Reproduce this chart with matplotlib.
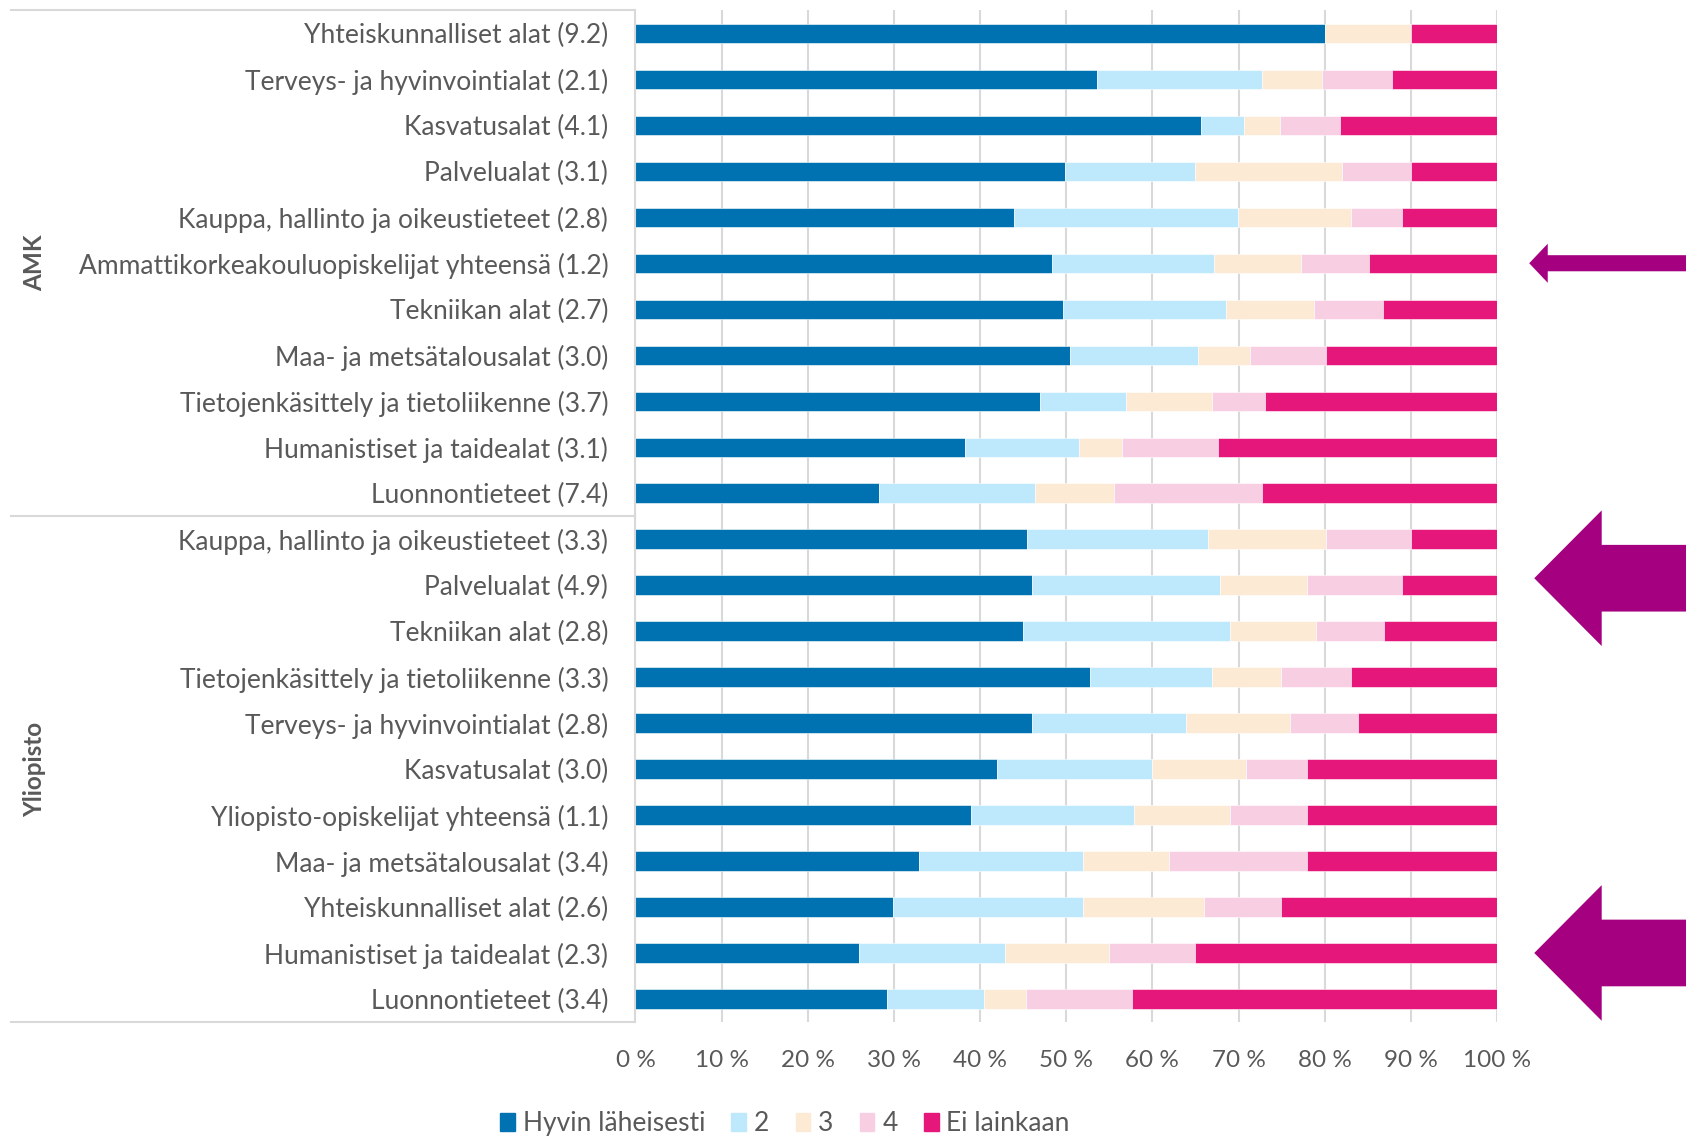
import numpy as np
import matplotlib
matplotlib.use("Agg")
import matplotlib.pyplot as plt
from matplotlib.patches import Polygon, Patch
from matplotlib.lines import Line2D
from matplotlib.transforms import blended_transform_factory

plt.rcParams['font.family'] = ['Lato', 'DejaVu Sans']

categories = [
    "Yhteiskunnalliset alat (9.2)",
    "Terveys- ja hyvinvointialat (2.1)",
    "Kasvatusalat (4.1)",
    "Palvelualat (3.1)",
    "Kauppa, hallinto ja oikeustieteet (2.8)",
    "Ammattikorkeakouluopiskelijat yhteensä (1.2)",
    "Tekniikan alat (2.7)",
    "Maa- ja metsätalousalat (3.0)",
    "Tietojenkäsittely ja tietoliikenne (3.7)",
    "Humanistiset ja taidealat (3.1)",
    "Luonnontieteet (7.4)",
    "Kauppa, hallinto ja oikeustieteet (3.3)",
    "Palvelualat (4.9)",
    "Tekniikan alat (2.8)",
    "Tietojenkäsittely ja tietoliikenne (3.3)",
    "Terveys- ja hyvinvointialat (2.8)",
    "Kasvatusalat (3.0)",
    "Yliopisto-opiskelijat yhteensä (1.1)",
    "Maa- ja metsätalousalat (3.4)",
    "Yhteiskunnalliset alat (2.6)",
    "Humanistiset ja taidealat (2.3)",
    "Luonnontieteet (3.4)",
]
groups = ["AMK", "Yliopisto"]
group_sizes = [11, 11]

series_names = ["Hyvin läheisesti", "2", "3", "4", "Ei lainkaan"]
hyvin = [80.0, 53.6, 65.7, 49.8, 43.9, 48.4, 49.6, 50.4, 46.9, 38.3, 28.3,
         45.5, 46.0, 45.0, 52.8, 46.0, 42.0, 39.0, 32.9, 29.9, 25.9, 29.2]
s2 = [0.0, 19.1, 4.9, 15.2, 26.0, 18.8, 19.0, 14.9, 10.0, 13.2, 18.1,
      20.9, 21.9, 24.0, 14.1, 17.9, 17.9, 18.9, 19.1, 22.1, 17.0, 11.2]
s3 = [10.0, 7.0, 4.2, 17.0, 13.1, 10.0, 10.2, 6.0, 10.0, 5.0, 9.1,
      13.8, 10.0, 10.0, 8.0, 12.1, 11.0, 11.1, 9.9, 14.0, 12.1, 4.9]
s4 = [0.0, 8.1, 7.0, 8.0, 6.0, 7.9, 8.0, 8.9, 6.2, 11.1, 17.2,
      9.8, 11.1, 7.9, 8.1, 7.9, 7.0, 8.9, 16.0, 8.9, 10.0, 12.3]
ei = [10.0, 12.2, 18.2, 10.0, 11.0, 14.9, 13.2, 19.8, 26.9, 32.4, 27.3,
      10.0, 11.0, 13.1, 17.0, 16.1, 22.1, 22.1, 22.1, 25.1, 35.0, 42.4]

# rows the arrows point at (row index, 0 = top)
arrow_small_row = 5
arrow_big_rows = [11.85, 20]

colors = ["#0071B1", "#BEE8FC", "#FDEAD4", "#F8CFE2", "#E5177A"]
arrow_color = "#A4007F"
text_color = "#595959"
grid_color = "#D9D9D9"

fig = plt.figure(figsize=(16.86, 11.36), dpi=100)
ax = fig.add_axes([0.3769, 0.1004, 0.511, 0.8905])

y = np.arange(len(categories))
left = np.zeros(len(categories))
for vals, col, name in zip([hyvin, s2, s3, s4, ei], colors, series_names):
    ax.barh(y, vals, left=left, height=0.42, color=col, label=name,
            edgecolor="white", linewidth=0.4)
    left += np.array(vals)

ax.set_ylim(len(categories) - 0.5, -0.5)
ax.set_xlim(0, 100)
ax.set_yticks(y)
ax.set_yticklabels(categories, fontsize=19, color=text_color)
ax.set_xticks(np.arange(0, 101, 10))
ax.set_xticklabels([f"{v} %" for v in range(0, 101, 10)], fontsize=17.5, color=text_color)
ax.tick_params(axis="y", length=0, pad=19.5)
ax.tick_params(axis="x", length=0, pad=20)

ax.set_axisbelow(True)
ax.xaxis.grid(True, color=grid_color, linewidth=1.5)
for s in ["top", "right", "bottom"]:
    ax.spines[s].set_visible(False)
ax.spines["left"].set_color(grid_color)
ax.spines["left"].set_linewidth(1.5)

# group separators and labels
tr = blended_transform_factory(fig.transFigure, ax.transData)
edges = np.concatenate([[0], np.cumsum(group_sizes)]) - 0.5
for e in edges:
    fig.add_artist(Line2D([0.0065, 0.3769], [e, e], transform=tr,
                          color=grid_color, linewidth=1.5))
for g, a, b in zip(groups, edges[:-1], edges[1:]):
    fig.text(0.0205, (a + b) / 2, g, transform=tr, rotation=90, ha="center",
             va="center", fontsize=17.5, color=text_color, fontweight="bold")

# arrows
def left_arrow(row, tip, back, head_h, shaft_h):
    pts = [(tip, row), (back, row - head_h / 2), (back, row - shaft_h / 2),
           (1.0, row - shaft_h / 2), (1.0, row + shaft_h / 2),
           (back, row + shaft_h / 2), (back, row + head_h / 2)]
    fig.add_artist(Polygon(pts, closed=True, transform=tr, color=arrow_color,
                           linewidth=0))

left_arrow(arrow_small_row, 0.907, 0.918, 0.85, 0.35)
for r in arrow_big_rows:
    left_arrow(r, 0.910, 0.950, 2.95, 1.45)

handles = [Patch(color=c) for c in colors]
fig.legend(handles, series_names, loc="lower center",
           bbox_to_anchor=(0.4656, -0.021), ncol=5, frameon=False,
           fontsize=19, handlelength=0.55, handleheight=0.7,
           handletextpad=0.3, columnspacing=1.0, labelcolor=text_color)

fig.savefig("out.png", dpi=100)
